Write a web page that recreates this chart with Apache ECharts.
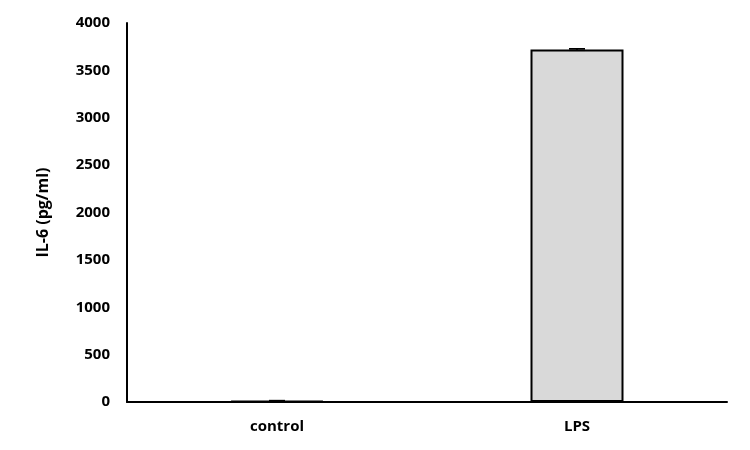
<!DOCTYPE html>
<html><head><meta charset="utf-8">
<script src="https://cdn.jsdelivr.net/npm/echarts@6/dist/echarts.min.js"></script>
<style>html,body{margin:0;padding:0;background:#fff}#c{width:750px;height:450px}</style>
</head><body><div id="c"></div>
<script>
const categories = ['control', 'LPS'];
const values = [12, 3720];
const errors = [3, 8];
const yTicks = { min: 0, max: 4000, interval: 500 };

const chart = echarts.init(document.getElementById('c'));
chart.setOption({
  animation: false,
  grid: { left: 127, right: 23, top: 23, bottom: 48 },
  xAxis: {
    type: 'category', data: categories,
    axisLine: { lineStyle: { color: '#000', width: 2 } },
    axisTick: { show: false },
    axisLabel: { color: '#000', fontWeight: 'bold', fontSize: 15, margin: 17, fontFamily: 'Open Sans' }
  },
  yAxis: {
    type: 'value', min: yTicks.min, max: yTicks.max, interval: yTicks.interval,
    name: 'IL-6 (pg/ml)', nameLocation: 'middle', nameGap: 76,
    nameTextStyle: { color: '#000', fontWeight: 'bold', fontSize: 16, fontFamily: 'Open Sans' },
    axisLine: { show: true, lineStyle: { color: '#000', width: 2 } },
    axisTick: { show: false },
    splitLine: { show: false },
    axisLabel: { color: '#000', fontWeight: 'bold', fontSize: 15, margin: 17, fontFamily: 'Open Sans',
      formatter: v => String(v) }
  },
  series: [
    {
      type: 'bar', data: values, barWidth: '31%',
      itemStyle: { color: '#d9d9d9', borderColor: '#000', borderWidth: 2 }
    },
    {
      type: 'custom',
      data: values.map((v, i) => [i, v - errors[i], v + errors[i]]),
      renderItem: function (params, api) {
        const x = api.value(0);
        const lo = api.coord([x, api.value(1)]);
        const hi = api.coord([x, api.value(2)]);
        const hw = 8;
        const style = { stroke: '#000', lineWidth: 1.5 };
        return {
          type: 'group',
          children: [
            { type: 'line', shape: { x1: hi[0], y1: hi[1], x2: lo[0], y2: lo[1] }, style },
            { type: 'line', shape: { x1: hi[0] - hw, y1: hi[1], x2: hi[0] + hw, y2: hi[1] }, style },
            { type: 'line', shape: { x1: lo[0] - hw, y1: lo[1], x2: lo[0] + hw, y2: lo[1] }, style }
          ]
        };
      },
      z: 10
    }
  ]
});
</script></body></html>
